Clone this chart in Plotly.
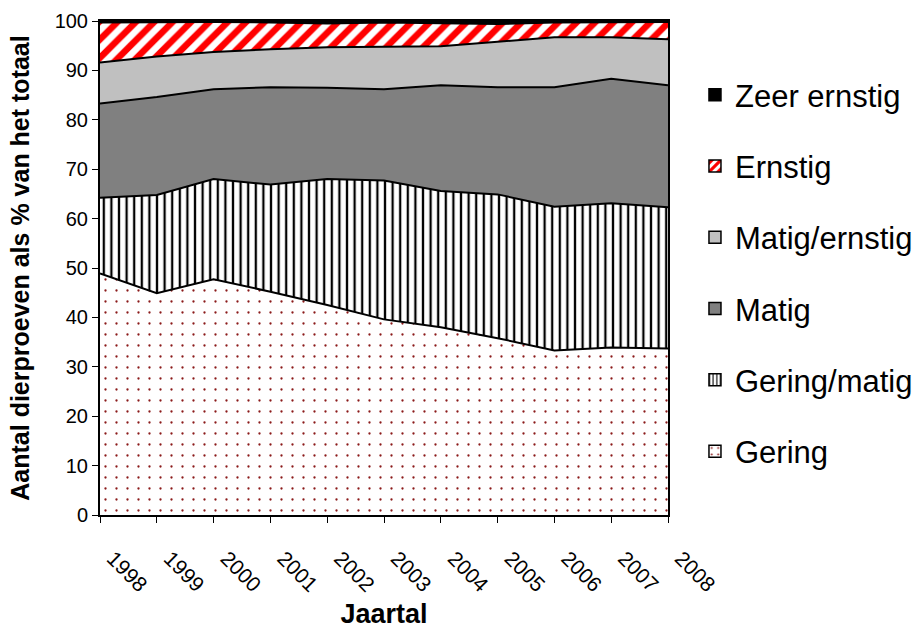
import plotly.graph_objects as go

years = ["1998", "1999", "2000", "2001", "2002", "2003", "2004", "2005", "2006", "2007", "2008"]
gering = [48.9, 44.9, 47.7, 45.2, 42.5, 39.6, 38.0, 35.8, 33.3, 33.9, 33.7]
gering_matig = [15.3, 19.9, 20.3, 21.7, 25.5, 28.1, 27.6, 29.1, 29.1, 29.2, 28.6]
matig = [19.1, 19.8, 18.2, 19.7, 18.5, 18.5, 21.4, 21.7, 24.2, 25.2, 24.7]
matig_ernstig = [8.3, 8.2, 7.5, 7.7, 8.2, 8.6, 7.9, 9.2, 10.1, 8.4, 9.3]
ernstig = [8.1, 7.0, 6.1, 5.4, 4.8, 4.9, 4.7, 3.6, 3.0, 3.1, 3.5]
zeer_ernstig = [0.3, 0.2, 0.2, 0.3, 0.5, 0.3, 0.4, 0.6, 0.3, 0.2, 0.2]

xpos = list(range(len(years)))
FONT = "Liberation Sans, Arial, sans-serif"

dots = dict(shape=".", fgcolor="#8b1a1a", bgcolor="white", size=11, solidity=0.035, fgopacity=1)
vlines = dict(shape="|", fgcolor="black", bgcolor="white", size=7.6, solidity=0.3, fgopacity=1)
stripes = dict(shape="/", fgcolor="#ff0000", bgcolor="white", size=13, solidity=0.5, fgopacity=1)

series = [
    ("Gering", gering, "white", dots),
    ("Gering/matig", gering_matig, "white", vlines),
    ("Matig", matig, "#808080", None),
    ("Matig/ernstig", matig_ernstig, "#c0c0c0", None),
    ("Ernstig", ernstig, "white", stripes),
    ("Zeer ernstig", zeer_ernstig, "black", None),
]

fig = go.Figure()
for i, (name, vals, color, pat) in enumerate(series):
    kw = dict(fillcolor=color)
    if pat is not None:
        kw["fillpattern"] = pat
    fig.add_trace(go.Scatter(
        x=xpos, y=vals, name=name, mode="lines", stackgroup="one",
        line=dict(color="black", width=2),
        showlegend=False, hoverinfo="skip", **kw,
    ))

# legend entries (square swatches)
for i, (name, vals, color, pat) in enumerate(series):
    marker = dict(color=color, line=dict(color="black", width=1.5))
    if pat is not None:
        if pat["shape"] == ".":
            marker["pattern"] = dict(shape=".", fgcolor=pat["fgcolor"], bgcolor="white",
                                     size=8, solidity=0.08, fillmode="replace")
        else:
            marker["pattern"] = dict(shape=pat["shape"], fgcolor=pat["fgcolor"], bgcolor="white",
                                     size=pat["size"] * 0.6, solidity=pat["solidity"], fillmode="replace")
    fig.add_trace(go.Bar(
        x=[None], y=[None], name=name, marker=marker,
        legendgroup=name, legendrank=100 - i, showlegend=True, hoverinfo="skip",
    ))

fig.update_layout(
    width=916, height=631,
    margin=dict(l=100, r=248, t=21, b=116, autoexpand=False),
    paper_bgcolor="white", plot_bgcolor="white",
    font=dict(family=FONT, color="black"),
    showlegend=True,
    legend=dict(
        xref="container", yref="container",
        x=0.7587, xanchor="left", y=0.8922, yanchor="top",
        font=dict(size=31, family=FONT, color="black"),
        tracegroupgap=28, itemwidth=30, maxheight=600,
        bgcolor="rgba(0,0,0,0)",
    ),
    xaxis=dict(
        range=[0, 10], tickvals=xpos, ticktext=years, automargin=False,
        tickangle=45, ticks="outside", ticklen=6, tickcolor="black",
        showline=True, linecolor="black", linewidth=2, mirror=True,
        showgrid=False, zeroline=False,
        tickfont=dict(size=21, family=FONT),
        ticklabelstandoff=15, ticklabelshift=13,
        title=dict(text="<b>Jaartal</b>", font=dict(size=27, family=FONT), standoff=9),
    ),
    yaxis=dict(
        range=[0, 100], dtick=10, ticks="outside", ticklen=6, tickcolor="black", automargin=False,
        showline=True, linecolor="black", linewidth=2, mirror=True,
        showgrid=False, zeroline=False,
        tickfont=dict(size=20, family=FONT),
        title=dict(text="<b>Aantal dierproeven als % van het totaal</b>", font=dict(size=25, family=FONT), standoff=18),
    ),
)

fig.write_html("out.html")
